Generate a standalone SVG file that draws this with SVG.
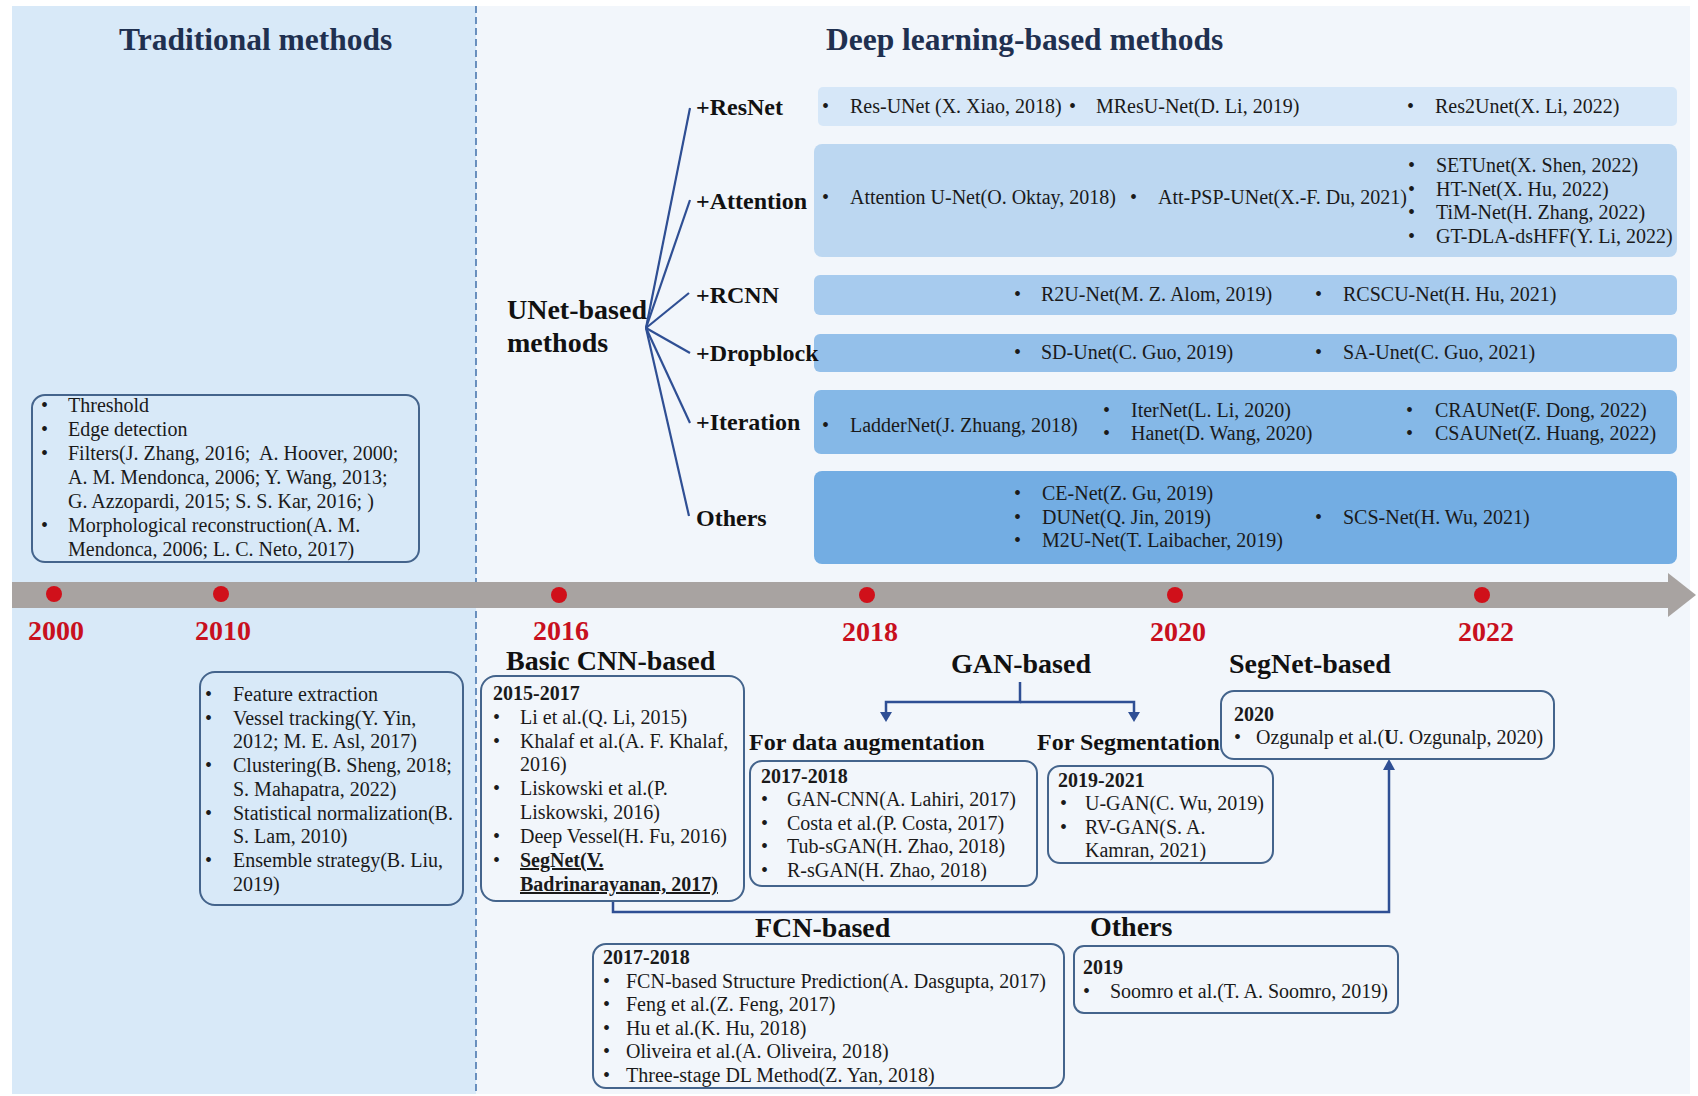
<svg xmlns="http://www.w3.org/2000/svg" width="1698" height="1096" viewBox="0 0 1698 1096">
<defs>
<style>
.t{font-family:"Liberation Serif","Times New Roman",serif;font-size:20px;fill:#1a1a1a}
.tb{font-family:"Liberation Serif","Times New Roman",serif;font-size:20px;font-weight:bold;fill:#1a1a1a}
.h{font-family:"Liberation Serif","Times New Roman",serif;font-size:31.5px;font-weight:bold;fill:#1f3050}
.lbl{font-family:"Liberation Serif","Times New Roman",serif;font-size:24px;font-weight:bold;fill:#111}
.sec{font-family:"Liberation Serif","Times New Roman",serif;font-size:28px;font-weight:bold;fill:#111}
.sub{font-family:"Liberation Serif","Times New Roman",serif;font-size:24px;font-weight:bold;fill:#111}
.yr{font-family:"Liberation Serif","Times New Roman",serif;font-size:28px;font-weight:bold;fill:#c8101e}
.box{fill:none;stroke:#44648c;stroke-width:2}
.conn{fill:none;stroke:#2f4f94;stroke-width:2.5}
.fan{fill:none;stroke:#2f4f94;stroke-width:2.2}
.dot{fill:#d0101a}
</style>
</defs>
<rect x="0" y="0" width="1698" height="1096" fill="#ffffff"/>
<rect x="12" y="6" width="464" height="1088" fill="#d8e9f8"/>
<rect x="476" y="6" width="1214" height="1088" fill="#f2f6fb"/>
<line x1="476" y1="6" x2="476" y2="1094" stroke="#4a78b0" stroke-width="1.6" stroke-dasharray="7,4"/>

<g id="titles">
<text class="h" x="119" y="50">Traditional methods</text>
<text class="h" x="826" y="50">Deep learning-based methods</text>
</g>

<g id="timeline">
<rect x="12" y="582" width="1658" height="26" fill="#a8a3a1"/>
<polygon points="1668,573 1696,595 1668,617" fill="#a8a3a1"/>
<circle class="dot" cx="54" cy="594" r="8"/>
<circle class="dot" cx="221" cy="594" r="8"/>
<circle class="dot" cx="559" cy="595" r="8"/>
<circle class="dot" cx="867" cy="595" r="8"/>
<circle class="dot" cx="1175" cy="595" r="8"/>
<circle class="dot" cx="1482" cy="595" r="8"/>
<text class="yr" x="56" y="640" text-anchor="middle">2000</text>
<text class="yr" x="223" y="640" text-anchor="middle">2010</text>
<text class="yr" x="561" y="640" text-anchor="middle">2016</text>
<text class="yr" x="870" y="641" text-anchor="middle">2018</text>
<text class="yr" x="1178" y="641" text-anchor="middle">2020</text>
<text class="yr" x="1486" y="641" text-anchor="middle">2022</text>
</g>

<g id="trad1">
<rect class="box" x="32" y="395" width="387" height="167" rx="13"/>
<text class="t" x="41" y="412">•</text><text class="t" x="68" y="412">Threshold</text>
<text class="t" x="41" y="436">•</text><text class="t" x="68" y="436">Edge detection</text>
<text class="t" x="41" y="460">•</text><text class="t" x="68" y="460" xml:space="preserve">Filters(J. Zhang, 2016;  A. Hoover, 2000;</text>
<text class="t" x="68" y="484">A. M. Mendonca, 2006; Y. Wang, 2013;</text>
<text class="t" x="68" y="508">G. Azzopardi, 2015; S. S. Kar, 2016; )</text>
<text class="t" x="41" y="532">•</text><text class="t" x="68" y="532">Morphological reconstruction(A. M.</text>
<text class="t" x="68" y="556">Mendonca, 2006; L. C. Neto, 2017)</text>
</g>

<g id="trad2">
<rect class="box" x="200" y="672" width="263" height="233" rx="15"/>
<text class="t" x="205" y="701">•</text><text class="t" x="233" y="701">Feature extraction</text>
<text class="t" x="205" y="725">•</text><text class="t" x="233" y="725">Vessel tracking(Y. Yin,</text>
<text class="t" x="233" y="748">2012; M. E. Asl, 2017)</text>
<text class="t" x="205" y="772">•</text><text class="t" x="233" y="772">Clustering(B. Sheng, 2018;</text>
<text class="t" x="233" y="796">S. Mahapatra, 2022)</text>
<text class="t" x="205" y="820">•</text><text class="t" x="233" y="820">Statistical normalization(B.</text>
<text class="t" x="233" y="843">S. Lam, 2010)</text>
<text class="t" x="205" y="867">•</text><text class="t" x="233" y="867">Ensemble strategy(B. Liu,</text>
<text class="t" x="233" y="891">2019)</text>
</g>

<g id="unet">
<text class="sec" x="507" y="319">UNet-based</text>
<text class="sec" x="507" y="352">methods</text>
</g>

<g id="connectors">
<line class="fan" x1="646" y1="328" x2="690" y2="108"/>
<line class="fan" x1="646" y1="328" x2="690" y2="200"/>
<line class="fan" x1="646" y1="328" x2="689" y2="293"/>
<line class="fan" x1="646" y1="328" x2="690" y2="353"/>
<line class="fan" x1="646" y1="328" x2="690" y2="423"/>
<line class="fan" x1="646" y1="328" x2="689" y2="516"/>
<polyline class="conn" points="1020,682 1020,702 886,702 886,714"/>
<polyline class="conn" points="1020,702 1134,702 1134,714"/>
<polygon points="880,712 892,712 886,722" fill="#2f4f94"/>
<polygon points="1128,712 1140,712 1134,722" fill="#2f4f94"/>
<polyline class="conn" points="613,901 613,912 1389,912 1389,768"/>
<polygon points="1383,770 1395,770 1389,759" fill="#2f4f94"/>
</g>

<g id="resnet">
<rect x="818" y="87" width="859" height="39" rx="5" fill="#d6e7f8"/>
<text class="lbl" x="696" y="115">+ResNet</text>
<text class="t" x="822" y="113">•</text><text class="t" x="850" y="113">Res-UNet (X. Xiao, 2018)</text>
<text class="t" x="1069" y="113">•</text><text class="t" x="1096" y="113">MResU-Net(D. Li, 2019)</text>
<text class="t" x="1407" y="113">•</text><text class="t" x="1435" y="113">Res2Unet(X. Li, 2022)</text>
</g>

<g id="attention">
<rect x="814" y="144" width="863" height="113" rx="8" fill="#bcd7f1"/>
<text class="lbl" x="696" y="209">+Attention</text>
<text class="t" x="822" y="204">•</text><text class="t" x="850" y="204">Attention U-Net(O. Oktay, 2018)</text>
<text class="t" x="1130" y="204">•</text><text class="t" x="1158" y="204">Att-PSP-UNet(X.-F. Du, 2021)</text>
<text class="t" x="1408" y="172">•</text><text class="t" x="1436" y="172">SETUnet(X. Shen, 2022)</text>
<text class="t" x="1408" y="196">•</text><text class="t" x="1436" y="196">HT-Net(X. Hu, 2022)</text>
<text class="t" x="1408" y="219">•</text><text class="t" x="1436" y="219">TiM-Net(H. Zhang, 2022)</text>
<text class="t" x="1408" y="243">•</text><text class="t" x="1436" y="243">GT-DLA-dsHFF(Y. Li, 2022)</text>
</g>

<g id="rcnn">
<rect x="814" y="275" width="863" height="40" rx="6" fill="#a7cbee"/>
<text class="lbl" x="696" y="303">+RCNN</text>
<text class="t" x="1014" y="301">•</text><text class="t" x="1041" y="301">R2U-Net(M. Z. Alom, 2019)</text>
<text class="t" x="1315" y="301">•</text><text class="t" x="1343" y="301">RCSCU-Net(H. Hu, 2021)</text>
</g>

<g id="dropblock">
<rect x="814" y="334" width="863" height="38" rx="6" fill="#94c0ea"/>
<text class="lbl" x="696" y="361" font-size="23.5">+Dropblock</text>
<text class="t" x="1014" y="359">•</text><text class="t" x="1041" y="359">SD-Unet(C. Guo, 2019)</text>
<text class="t" x="1315" y="359">•</text><text class="t" x="1343" y="359">SA-Unet(C. Guo, 2021)</text>
</g>

<g id="iteration">
<rect x="814" y="390" width="863" height="64" rx="7" fill="#85b8e7"/>
<text class="lbl" x="696" y="430">+Iteration</text>
<text class="t" x="822" y="432">•</text><text class="t" x="850" y="432">LadderNet(J. Zhuang, 2018)</text>
<text class="t" x="1103" y="417">•</text><text class="t" x="1131" y="417">IterNet(L. Li, 2020)</text>
<text class="t" x="1103" y="440">•</text><text class="t" x="1131" y="440">Hanet(D. Wang, 2020)</text>
<text class="t" x="1406" y="417">•</text><text class="t" x="1435" y="417">CRAUNet(F. Dong, 2022)</text>
<text class="t" x="1406" y="440">•</text><text class="t" x="1435" y="440">CSAUNet(Z. Huang, 2022)</text>
</g>

<g id="others-unet">
<rect x="814" y="471" width="863" height="93" rx="8" fill="#73ade3"/>
<text class="lbl" x="696" y="526">Others</text>
<text class="t" x="1014" y="500">•</text><text class="t" x="1042" y="500">CE-Net(Z. Gu, 2019)</text>
<text class="t" x="1014" y="524">•</text><text class="t" x="1042" y="524">DUNet(Q. Jin, 2019)</text>
<text class="t" x="1014" y="547">•</text><text class="t" x="1042" y="547">M2U-Net(T. Laibacher, 2019)</text>
<text class="t" x="1315" y="524">•</text><text class="t" x="1343" y="524">SCS-Net(H. Wu, 2021)</text>
</g>

<g id="basiccnn">
<text class="sec" x="506" y="670">Basic CNN-based</text>
<rect class="box" x="481" y="676" width="263" height="225" rx="15"/>
<text class="tb" x="493" y="700">2015-2017</text>
<text class="t" x="493" y="724">•</text><text class="t" x="520" y="724">Li et al.(Q. Li, 2015)</text>
<text class="t" x="493" y="748">•</text><text class="t" x="520" y="748">Khalaf et al.(A. F. Khalaf,</text>
<text class="t" x="520" y="771">2016)</text>
<text class="t" x="493" y="795">•</text><text class="t" x="520" y="795">Liskowski et al.(P.</text>
<text class="t" x="520" y="819">Liskowski, 2016)</text>
<text class="t" x="493" y="843">•</text><text class="t" x="520" y="843">Deep Vessel(H. Fu, 2016)</text>
<text class="t" x="493" y="867">•</text><text class="tb" x="520" y="867" text-decoration="underline">SegNet(V.</text>
<text class="tb" x="520" y="891" text-decoration="underline">Badrinarayanan, 2017)</text>
</g>

<g id="gan">
<text class="sec" x="951" y="673">GAN-based</text>
</g>

<g id="gan-aug">
<text class="sub" x="749" y="750">For data augmentation</text>
<rect class="box" x="750" y="761" width="287" height="125" rx="12"/>
<text class="tb" x="761" y="783">2017-2018</text>
<text class="t" x="761" y="806">•</text><text class="t" x="787" y="806">GAN-CNN(A. Lahiri, 2017)</text>
<text class="t" x="761" y="830">•</text><text class="t" x="787" y="830">Costa et al.(P. Costa, 2017)</text>
<text class="t" x="761" y="853">•</text><text class="t" x="787" y="853">Tub-sGAN(H. Zhao, 2018)</text>
<text class="t" x="761" y="877">•</text><text class="t" x="787" y="877">R-sGAN(H. Zhao, 2018)</text>
</g>

<g id="gan-seg">
<text class="sub" x="1037" y="750">For Segmentation</text>
<rect class="box" x="1048" y="766" width="225" height="97" rx="12"/>
<text class="tb" x="1058" y="787">2019-2021</text>
<text class="t" x="1060" y="810">•</text><text class="t" x="1085" y="810">U-GAN(C. Wu, 2019)</text>
<text class="t" x="1060" y="834">•</text><text class="t" x="1085" y="834">RV-GAN(S. A.</text>
<text class="t" x="1085" y="857">Kamran, 2021)</text>
</g>

<g id="segnet">
<text class="sec" x="1229" y="673">SegNet-based</text>
<rect class="box" x="1221" y="691" width="333" height="68" rx="13"/>
<text class="tb" x="1234" y="721">2020</text>
<text class="t" x="1234" y="744">•</text><text class="t" x="1256" y="744">Ozgunalp et al.(<tspan font-weight="bold">U</tspan>. Ozgunalp, 2020)</text>
</g>

<g id="fcn">
<text class="sec" x="755" y="937">FCN-based</text>
<rect class="box" x="593" y="944" width="471" height="144" rx="13"/>
<text class="tb" x="603" y="964">2017-2018</text>
<text class="t" x="603" y="988">•</text><text class="t" x="626" y="988">FCN-based Structure Prediction(A. Dasgupta, 2017)</text>
<text class="t" x="603" y="1011">•</text><text class="t" x="626" y="1011">Feng et al.(Z. Feng, 2017)</text>
<text class="t" x="603" y="1035">•</text><text class="t" x="626" y="1035">Hu et al.(K. Hu, 2018)</text>
<text class="t" x="603" y="1058">•</text><text class="t" x="626" y="1058">Oliveira et al.(A. Oliveira, 2018)</text>
<text class="t" x="603" y="1082">•</text><text class="t" x="626" y="1082">Three-stage DL Method(Z. Yan, 2018)</text>
</g>

<g id="others-bottom">
<text class="sec" x="1090" y="936">Others</text>
<rect class="box" x="1074" y="946" width="324" height="67" rx="10"/>
<text class="tb" x="1083" y="974">2019</text>
<text class="t" x="1083" y="998">•</text><text class="t" x="1110" y="998">Soomro et al.(T. A. Soomro, 2019)</text>
</g>
</svg>
